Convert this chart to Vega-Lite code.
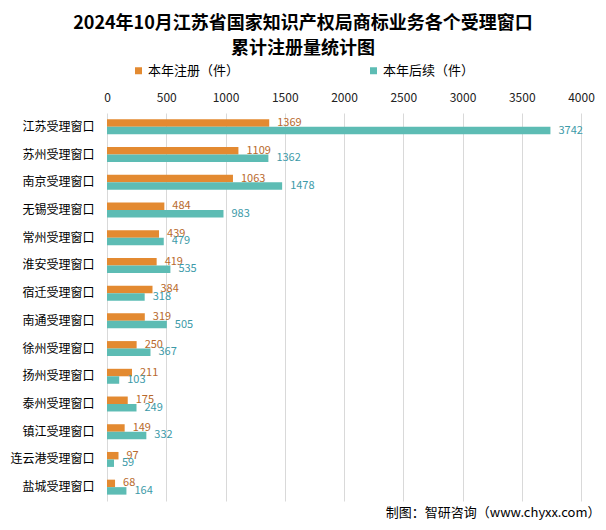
{
  "$schema": "https://vega.github.io/schema/vega-lite/v6.json",
  "width": 474,
  "height": 388,
  "autosize": {"type": "none"},
  "padding": {"left": 107, "top": 113, "right": 25, "bottom": 29},
  "background": "white",
  "config": {
    "font": "Noto Sans CJK SC",
    "view": {"stroke": null}
  },
  "title": {
    "text": ["2024年10月江苏省国家知识产权局商标业务各个受理窗口", "累计注册量统计图"],
    "fontSize": 18,
    "fontWeight": "bold",
    "color": "#000000",
    "anchor": "middle",
    "frame": "group",
    "dx": -41,
    "offset": 6,
    "lineHeight": 25
  },
  "data": {
    "values": [
      {"name": "江苏受理窗口", "s": "本年注册（件）", "v": 1369},
      {"name": "江苏受理窗口", "s": "本年后续（件）", "v": 3742},
      {"name": "苏州受理窗口", "s": "本年注册（件）", "v": 1109},
      {"name": "苏州受理窗口", "s": "本年后续（件）", "v": 1362},
      {"name": "南京受理窗口", "s": "本年注册（件）", "v": 1063},
      {"name": "南京受理窗口", "s": "本年后续（件）", "v": 1478},
      {"name": "无锡受理窗口", "s": "本年注册（件）", "v": 484},
      {"name": "无锡受理窗口", "s": "本年后续（件）", "v": 983},
      {"name": "常州受理窗口", "s": "本年注册（件）", "v": 439},
      {"name": "常州受理窗口", "s": "本年后续（件）", "v": 479},
      {"name": "淮安受理窗口", "s": "本年注册（件）", "v": 419},
      {"name": "淮安受理窗口", "s": "本年后续（件）", "v": 535},
      {"name": "宿迁受理窗口", "s": "本年注册（件）", "v": 384},
      {"name": "宿迁受理窗口", "s": "本年后续（件）", "v": 318},
      {"name": "南通受理窗口", "s": "本年注册（件）", "v": 319},
      {"name": "南通受理窗口", "s": "本年后续（件）", "v": 505},
      {"name": "徐州受理窗口", "s": "本年注册（件）", "v": 250},
      {"name": "徐州受理窗口", "s": "本年后续（件）", "v": 367},
      {"name": "扬州受理窗口", "s": "本年注册（件）", "v": 211},
      {"name": "扬州受理窗口", "s": "本年后续（件）", "v": 103},
      {"name": "泰州受理窗口", "s": "本年注册（件）", "v": 175},
      {"name": "泰州受理窗口", "s": "本年后续（件）", "v": 249},
      {"name": "镇江受理窗口", "s": "本年注册（件）", "v": 149},
      {"name": "镇江受理窗口", "s": "本年后续（件）", "v": 332},
      {"name": "连云港受理窗口", "s": "本年注册（件）", "v": 97},
      {"name": "连云港受理窗口", "s": "本年后续（件）", "v": 59},
      {"name": "盐城受理窗口", "s": "本年注册（件）", "v": 68},
      {"name": "盐城受理窗口", "s": "本年后续（件）", "v": 164}
    ]
  },
  "encoding": {
    "y": {
      "field": "name",
      "type": "nominal",
      "sort": null,
      "scale": {"paddingInner": 0.46, "paddingOuter": 0.23},
      "axis": {
        "title": null,
        "ticks": false,
        "domain": false,
        "labelFontSize": 12,
        "labelColor": "#000000",
        "labelPadding": 13
      }
    },
    "yOffset": {
      "field": "s",
      "type": "nominal",
      "sort": ["本年注册（件）", "本年后续（件）"]
    }
  },
  "layer": [
    {
      "mark": {"type": "bar"},
      "encoding": {
        "x": {
          "field": "v",
          "type": "quantitative",
          "scale": {"domain": [0, 4000], "nice": false},
          "axis": {
            "orient": "top",
            "title": null,
            "values": [0, 500, 1000, 1500, 2000, 2500, 3000, 3500, 4000],
            "format": "d",
            "ticks": false,
            "domain": false,
            "grid": true,
            "gridColor": "#D9D9D9",
            "labelFontSize": 12,
            "labelColor": "#222222",
            "labelPadding": 9,
            "labelFlush": false
          }
        },
        "color": {
          "field": "s",
          "type": "nominal",
          "sort": ["本年注册（件）", "本年后续（件）"],
          "scale": {"domain": ["本年注册（件）", "本年后续（件）"], "range": ["#E38A31", "#5DBCB4"]},
          "legend": {
            "title": null,
            "orient": "none",
            "direction": "horizontal",
            "columns": 2,
            "legendX": 25,
            "legendY": -49,
            "columnPadding": 127,
            "symbolType": "square",
            "symbolSize": 49,
            "symbolStrokeWidth": 0,
            "labelFontSize": 13,
            "labelColor": "#000000",
            "labelOffset": 3
          }
        }
      }
    },
    {
      "mark": {"type": "text", "align": "left", "baseline": "middle", "dx": 8, "fontSize": 11},
      "encoding": {
        "x": {
          "field": "v",
          "type": "quantitative",
          "axis": {
            "orient": "bottom",
            "labels": false,
            "ticks": false,
            "domain": false,
            "grid": false,
            "title": "制图：智研咨询（www.chyxx.com）",
            "titleFontSize": 13,
            "titleFontWeight": "normal",
            "titleColor": "#000000",
            "titleAlign": "right",
            "titleAnchor": "end",
            "titleX": 493,
            "titleY": 11,
            "titleBaseline": "middle"
          }
        },
        "text": {"field": "v", "type": "quantitative"},
        "color": {
          "condition": {"test": "datum.s === '本年注册（件）'", "value": "#B8692C"},
          "value": "#3C9AA8"
        }
      }
    }
  ],
  "resolve": {"axis": {"x": "independent"}}
}
